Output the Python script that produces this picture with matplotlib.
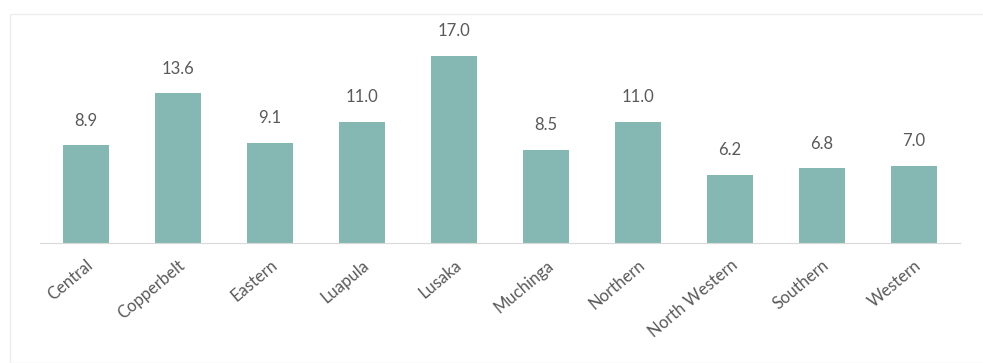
import matplotlib.pyplot as plt
from matplotlib.patches import Rectangle

provinces = ['Central', 'Copperbelt', 'Eastern', 'Luapula', 'Lusaka',
             'Muchinga', 'Northern', 'North Western', 'Southern', 'Western']
values = [8.9, 13.6, 9.1, 11.0, 17.0, 8.5, 11.0, 6.2, 6.8, 7.0]

bar_color = '#85b8b2'
text_color = '#595959'

plt.rcParams['font.family'] = ['Lato', 'DejaVu Sans']

fig = plt.figure(figsize=(9.83, 3.63), dpi=100)
# faint chart-area frame
fig.patches.append(Rectangle((10 / 983, 0.0), 1.0, (363 - 14) / 363,
                             transform=fig.transFigure, fill=False,
                             edgecolor='#eeeeee', linewidth=1))
ax = fig.add_axes([40 / 983, 120 / 363, 920 / 983, 220 / 363])

x = range(len(provinces))
bars = ax.bar(x, values, width=0.5, color=bar_color)
for b, v in zip(bars, values):
    ax.text(b.get_x() + b.get_width() / 2, v + 1.5, f'{v:.1f}',
            ha='center', va='bottom', fontsize=12, color=text_color)

ax.set_xlim(-0.5, len(provinces) - 0.5)
ax.set_ylim(0, 20)
ax.set_xticks(list(x))
ax.set_xticklabels(provinces, rotation=40, ha='right', rotation_mode='anchor',
                   fontsize=12, color=text_color)
ax.tick_params(axis='x', length=0, pad=10)
ax.set_yticks([])
for side in ['top', 'right', 'left']:
    ax.spines[side].set_visible(False)
ax.spines['bottom'].set_color('#d9d9d9')

fig.savefig('out.png', dpi=100)
